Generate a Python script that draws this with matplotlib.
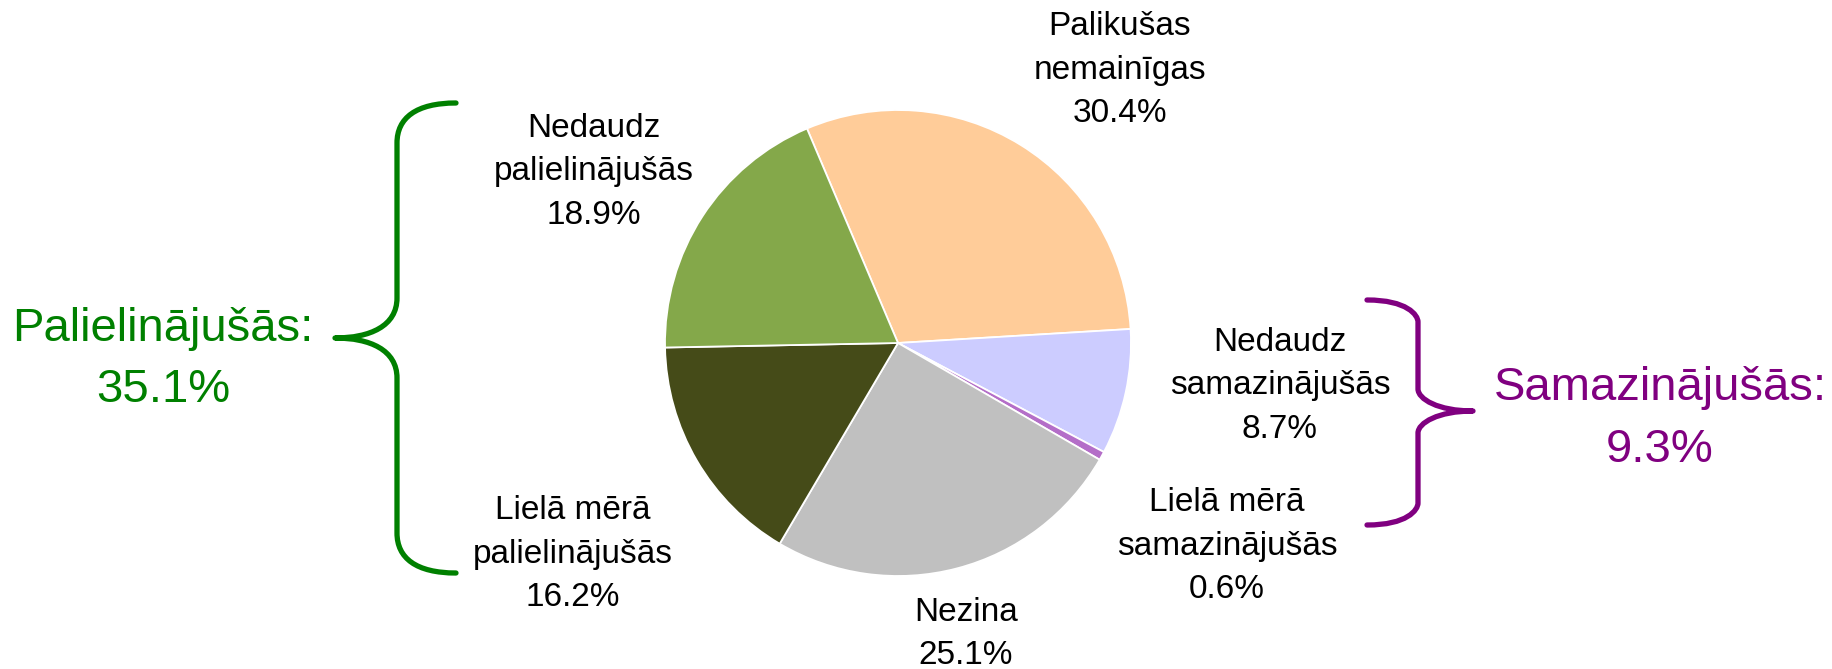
import matplotlib.pyplot as plt
from matplotlib.path import Path
from matplotlib.patches import PathPatch

plt.rcParams['font.family'] = ['Liberation Sans', 'DejaVu Sans']

# slices, clockwise from the top-left
labels = ['Palikušas\nnemainīgas', 'Nedaudz\nsamazinājušās', 'Lielā mērā\nsamazinājušās',
          'Nezina', 'Lielā mērā\npalielinājušās', 'Nedaudz\npalielinājušās']
values = [30.4, 8.7, 0.6, 25.1, 16.2, 18.9]
colors = ['#FFCC99', '#CCCCFF', '#B46EC8', '#C0C0C0', '#454B18', '#84A84A']

group_labels = ['Palielinājušās:', 'Samazinājušās:']
group_values = [35.1, 9.3]
group_colors = ['#008000', '#800080']

W, H = 1833, 669
fig = plt.figure(figsize=(W / 100, H / 100), dpi=100)
ax = fig.add_axes([0, 0, 1, 1])

cx, cy, r = 898, H - 343, 233
ax.pie(values, colors=colors, startangle=113, counterclock=False,
       center=(cx, cy), radius=r,
       wedgeprops=dict(edgecolor='white', linewidth=1.3))
ax.set_xlim(0, W)
ax.set_ylim(0, H)
ax.set_aspect('equal')
ax.axis('off')

# label positions in pixels (x, y from top)
label_pos = [(1120, 70), (1280, 386), (1227, 546), (966, 634), (573, 554), (594, 172)]
for lab, v, (x, y) in zip(labels, values, label_pos):
    ax.text(x, H - y, f'{lab}\n{v:.1f}%', ha='center', va='center',
            fontsize=24, linespacing=1.52, color='black')


def brace(x_end, x_spine, x_tip, y_top, y_mid, y_bot, rad, color):
    # curly brace, pixel coords with y from top
    d = 1 if x_tip < x_spine else -1
    pts = [(x_end, y_top),
           (x_end - d * 40, y_top), (x_spine, y_top + 15), (x_spine, y_top + rad),
           (x_spine, y_mid - rad),
           (x_spine, y_mid - 12), (x_tip + d * 35, y_mid), (x_tip, y_mid),
           (x_tip + d * 35, y_mid), (x_spine, y_mid + 12), (x_spine, y_mid + rad),
           (x_spine, y_bot - rad),
           (x_spine, y_bot - 15), (x_end - d * 40, y_bot), (x_end, y_bot)]
    codes = [Path.MOVETO,
             Path.CURVE4, Path.CURVE4, Path.CURVE4,
             Path.LINETO,
             Path.CURVE4, Path.CURVE4, Path.CURVE4,
             Path.CURVE4, Path.CURVE4, Path.CURVE4,
             Path.LINETO,
             Path.CURVE4, Path.CURVE4, Path.CURVE4]
    pts = [(x, H - y) for x, y in pts]
    ax.add_patch(PathPatch(Path(pts, codes), facecolor='none', edgecolor=color,
                           linewidth=3.8, capstyle='round', joinstyle='round'))


brace(456, 397, 335, 103, 338, 573, 40, group_colors[0])
brace(1367, 1418, 1473, 300, 411, 525, 22, group_colors[1])

group_pos = [(163, 360), (1660, 419)]
for lab, v, c, (x, y) in zip(group_labels, group_values, group_colors, group_pos):
    ax.text(x, H - y, f'{lab}\n{v:.1f}%', ha='center', va='center',
            fontsize=34, linespacing=1.5, color=c)

fig.savefig('out.png', dpi=100)
